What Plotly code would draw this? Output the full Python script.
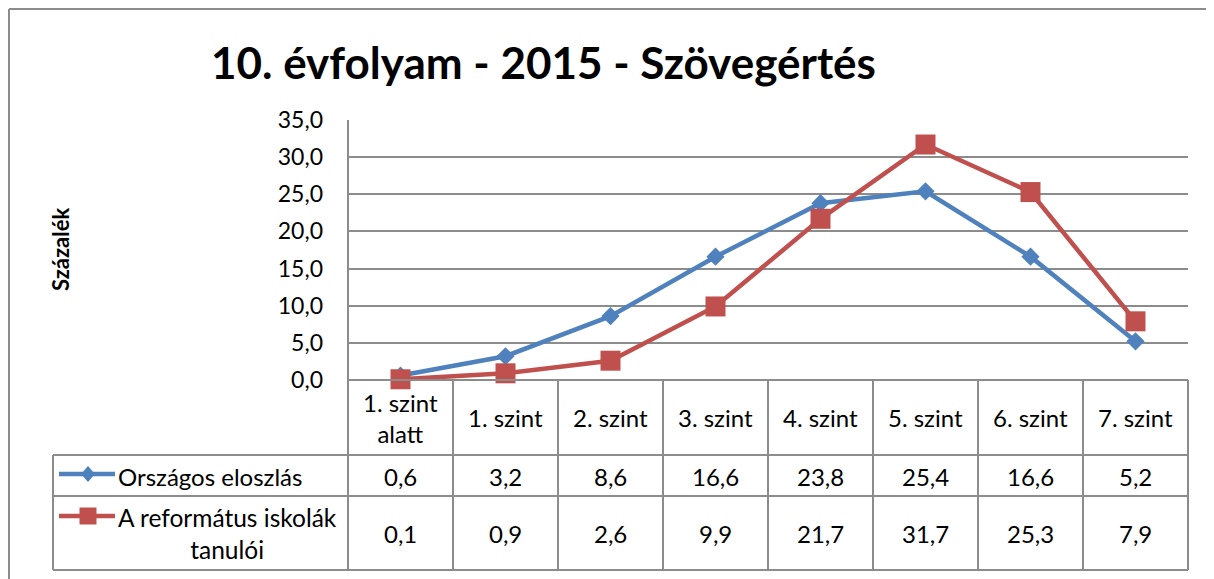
import plotly.graph_objects as go

# ---------------- data ----------------
categories = ["1. szint<br>alatt", "1. szint", "2. szint", "3. szint",
              "4. szint", "5. szint", "6. szint", "7. szint"]
series_names = ["Országos eloszlás", "A református iskolák<br>tanulói"]
orszagos = [0.6, 3.2, 8.6, 16.6, 23.8, 25.4, 16.6, 5.2]
reformatus = [0.1, 0.9, 2.6, 9.9, 21.7, 31.7, 25.3, 7.9]
y_ticks = [0, 5, 10, 15, 20, 25, 30, 35]
title_text = "10. évfolyam - 2015 - Szövegértés"
y_title = "Százalék"

# ---------------- layout helpers ----------------
W, H = 1214, 579
OX, OY = 8, 8          # page offset of the figure in the screenshot
FONT = "Lato"
BLUE = "#4F81BD"
RED = "#C0504D"
GRID = "#8C8C8C"


def fx(p):
    return (p - OX) / W


def fy(p):
    return 1 - (p - OY) / H


PL, PR, PT, PB = 348, 1188, 120, 380      # plot area (screen px)
TL = 53                                   # table left edge
ROW1, ROW2, TB = 455, 496, 570            # table row lines
CW = (PR - PL) / len(categories)


def fmt(v):
    return f"{v:.1f}".replace(".", ",")


x_idx = list(range(len(categories)))

fig = go.Figure()
fig.add_trace(go.Scatter(
    x=x_idx, y=orszagos, mode="lines+markers", name=series_names[0],
    line=dict(color=BLUE, width=4.5),
    marker=dict(symbol="diamond", size=14, color=BLUE),
    cliponaxis=False))
fig.add_trace(go.Scatter(
    x=x_idx, y=reformatus, mode="lines+markers", name=series_names[1],
    line=dict(color=RED, width=4.5),
    marker=dict(symbol="square", size=20, color=RED),
    cliponaxis=False))

shapes = []


def hline(y, x0, x1, color=GRID, w=2):
    shapes.append(dict(type="line", xref="paper", yref="paper",
                       x0=fx(x0), x1=fx(x1), y0=fy(y), y1=fy(y),
                       line=dict(color=color, width=w), layer="above"))


def vline(x, y0, y1, color=GRID, w=2):
    shapes.append(dict(type="line", xref="paper", yref="paper",
                       x0=fx(x), x1=fx(x), y0=fy(y0), y1=fy(y1),
                       line=dict(color=color, width=w), layer="above"))


# outer chart frame
hline(OY + 1, OX + 1, OX + W, color="#8C8C8C", w=2)
vline(OX + 1, OY + 1, OY + H, color="#8C8C8C", w=2)

# plot-area left axis line
vline(PL, PT, PB)
# table
hline(PB, PL, PR)
hline(ROW1, TL, PR)
hline(ROW2, TL, PR)
hline(TB, TL, PR)
vline(TL, ROW1, TB)
for k in range(len(categories) + 1):
    vline(PL + k * CW, PB, TB)


# legend keys inside the table
def legend_line(y, color):
    shapes.append(dict(type="line", xref="paper", yref="paper",
                       x0=fx(59), x1=fx(115), y0=fy(y), y1=fy(y),
                       line=dict(color=color, width=4.5), layer="above"))


legend_line(474, BLUE)
cx, cy, rx, ry = 88, 474, 7, 8
shapes.append(dict(type="path", xref="paper", yref="paper", layer="above",
                   path=f"M{fx(cx - rx)},{fy(cy)} L{fx(cx)},{fy(cy - ry)} "
                        f"L{fx(cx + rx)},{fy(cy)} L{fx(cx)},{fy(cy + ry)} Z",
                   fillcolor=BLUE, line=dict(width=0)))
legend_line(516, RED)
cx, cy, r = 88, 516, 8.5
shapes.append(dict(type="rect", xref="paper", yref="paper", layer="above",
                   x0=fx(cx - r), x1=fx(cx + r), y0=fy(cy - r), y1=fy(cy + r),
                   fillcolor=RED, line=dict(width=0)))

annotations = []
TXT = dict(family=FONT, size=24, color="#000000")

# category labels
for i, c in enumerate(categories):
    annotations.append(dict(x=i, y=fy((PB + ROW1) / 2), xref="x", yref="paper",
                            text=c, showarrow=False, font=TXT,
                            xanchor="center", yanchor="middle"))
# values
for i, v in enumerate(orszagos):
    annotations.append(dict(x=i, y=fy((ROW1 + ROW2) / 2 + 1), xref="x", yref="paper",
                            text=fmt(v), showarrow=False, font=TXT,
                            xanchor="center", yanchor="middle"))
for i, v in enumerate(reformatus):
    annotations.append(dict(x=i, y=fy((ROW2 + TB) / 2), xref="x", yref="paper",
                            text=fmt(v), showarrow=False, font=TXT,
                            xanchor="center", yanchor="middle"))
# series names
annotations.append(dict(x=fx(116), y=fy(476), xref="paper", yref="paper",
                        text=series_names[0], showarrow=False, font=TXT,
                        xanchor="left", yanchor="middle"))
annotations.append(dict(x=fx(116), y=fy(533), xref="paper", yref="paper",
                        text=series_names[1], showarrow=False,
                        font=dict(family=FONT, size=24.5, color="#000000"),
                        xanchor="left", yanchor="middle", align="center"))
# title
annotations.append(dict(x=fx(543), y=fy(62), xref="paper", yref="paper",
                        text=f"<b>{title_text}</b>", showarrow=False,
                        font=dict(family=FONT, size=44, color="#000000"),
                        xanchor="center", yanchor="middle"))
# y axis title
annotations.append(dict(x=fx(60), y=fy(250), xref="paper", yref="paper",
                        text=f"<b>{y_title}</b>", showarrow=False, textangle=-90,
                        font=dict(family=FONT, size=22, color="#000000"),
                        xanchor="center", yanchor="middle"))

fig.update_layout(
    template="none",
    width=W, height=H,
    margin=dict(l=0, r=0, t=0, b=0),
    paper_bgcolor="white", plot_bgcolor="white",
    showlegend=False,
    separators=", ",
    xaxis=dict(domain=[fx(PL), fx(PR)], range=[-0.5, len(categories) - 0.5],
               showticklabels=False, showgrid=False, zeroline=False,
               showline=False, fixedrange=True),
    yaxis=dict(domain=[fy(PB), fy(PT)], range=[0, 35], tickvals=y_ticks,
               tickformat=".1f", showgrid=True, gridcolor=GRID, gridwidth=2,
               zeroline=False, showline=False, ticks="",
               ticklabelstandoff=24,
               tickfont=dict(family=FONT, size=23, color="#000000")),
    shapes=shapes,
    annotations=annotations,
)

fig.write_html("out.html")
